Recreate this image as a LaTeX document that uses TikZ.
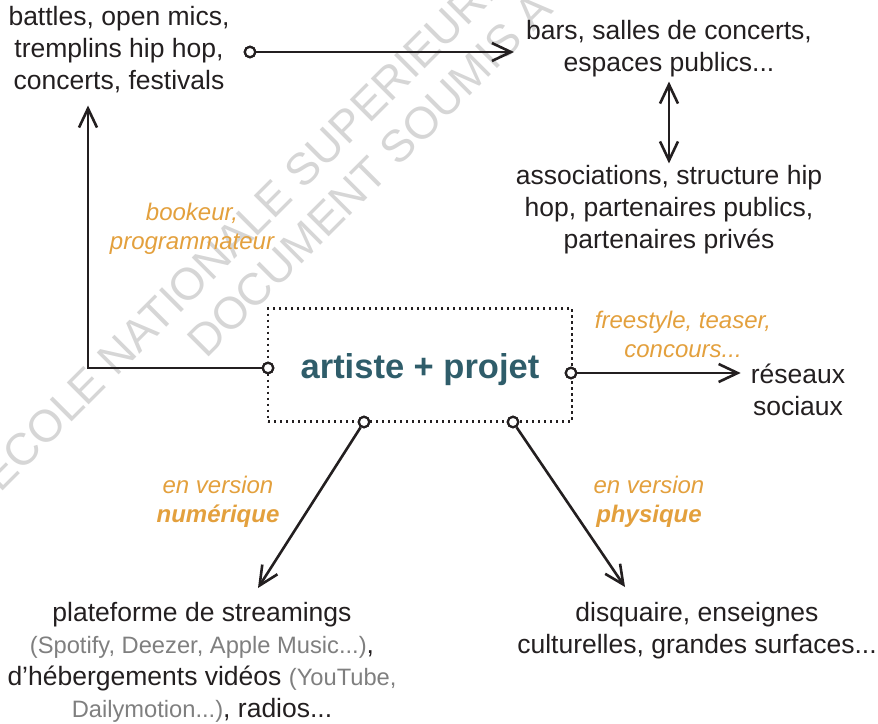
\documentclass[tikz,border=0pt]{standalone}
\usepackage{fontspec}
\setmainfont{Liberation Sans}
\usetikzlibrary{arrows.meta}
\definecolor{ink}{HTML}{231F20}
\definecolor{lab}{HTML}{E3A03D}
\definecolor{projc}{HTML}{2F5D6A}
\definecolor{wmc}{HTML}{D6D6D6}
\definecolor{grayt}{HTML}{7F7F7F}
\newcommand\grtxt[1]{{\color{grayt}\fontsize{23.7}{32}\selectfont #1}}
\tikzset{
  txt/.style={align=center, inner sep=0pt, font=\fontsize{26.5}{32}\selectfont, text=ink},
  lbl/.style={align=center, inner sep=0pt, font=\fontsize{24}{29}\selectfont\itshape, text=lab},
  wmk/.style={inner sep=0pt, font=\fontsize{45}{55}\selectfont, text=wmc, rotate=45, anchor=base west},
  dotc/.style={circle, draw=ink, fill=white, line width=2.2pt, inner sep=0pt, minimum size=10.5pt},
  conn/.style={draw=ink, line width=2.6pt},
  arr/.style={conn, -{Straight Barb[length=19pt,width=18pt,line width=2.6pt]}},
  arrb/.style={conn, {Straight Barb[length=19pt,width=18pt,line width=2.6pt]}-{Straight Barb[length=19pt,width=18pt,line width=2.6pt]}},
  dotbox/.style={draw=ink, line width=2.2pt, dash pattern=on 2.2pt off 3.8pt, inner sep=0pt}
}
\begin{document}
\begin{tikzpicture}[x=1pt,y=-1pt]
\useasboundingbox (0,0) rectangle (878,723);
% watermark
\begin{scope}
\clip (0,0) rectangle (878,723);
\node[wmk] (wm1) at (0,494) {ECOLE NATIONALE SUPERIEURE};
\node[wmk] (wm2) at (206,360) {DOCUMENT SOUMIS A};
\end{scope}
% text nodes
\node[txt] (battles) at (119,50) {battles, open mics,\\tremplins hip hop,\\concerts, festivals};
\node[txt] (bars) at (669,49) {bars, salles de concerts,\\espaces publics...};
\node[txt] (assoc) at (669,210) {associations, structure hip\\hop, partenaires publics,\\partenaires privés};
\node[txt] (res) at (798,390) {réseaux\\sociaux};
\node[txt] (plat) at (202,662) {plateforme de streamings\\\grtxt{(Spotify, Deezer, Apple Music...)},\\d’hébergements vidéos \grtxt{(YouTube,}\\\grtxt{Dailymotion...)}, radios...};
\node[txt] (disq) at (697,631) {disquaire, enseignes\\culturelles, grandes surfaces...};
% central box
\node[dotbox, minimum width=304pt, minimum height=113pt] (box) at (420,365) {};
\node[inner sep=0pt, font=\fontsize{34.5}{40}\selectfont\bfseries, text=projc] (proj) at (420,370) {artiste + projet};
% labels
\node[lbl] (lb1) at (192,229) {bookeur,\\programmateur};
\node[lbl] (lb2) at (683,334) {freestyle, teaser,\\concours...};
\node[lbl] (lb3) at (218,502) {en version\\\textbf{numérique}};
\node[lbl] (lb4) at (649,502) {en version\\\textbf{physique}};
% connector points
\coordinate (bend) at (88,368);
\coordinate (tipN) at (258,588);
\coordinate (tipP) at (625,587);
\node[dotc] (c1) at (250,52) {};
\node[dotc] (c2) at (268,368) {};
\node[dotc] (c3) at (571,373) {};
\node[dotc] (c4) at (364,422) {};
\node[dotc] (c5) at (513,422) {};
% connectors
\draw[arr, shorten >=12pt] (c1) -- (c1 -| bars.west);
\draw[arrb, shorten <=4pt, shorten >=2pt] (bars.south) -- (bars.south |- assoc.north);
\draw[arr, shorten >=12pt] (c2) -- (bend) -- (bend |- battles.south);
\draw[arr, shorten >=10pt] (c3) -- (c3 -| res.west);
\draw[arr] (c4) -- (tipN);
\draw[arr] (c5) -- (tipP);
% redraw circles on top
\node[dotc] at (c1) {};
\node[dotc] at (c2) {};
\node[dotc] at (c3) {};
\node[dotc] at (c4) {};
\node[dotc] at (c5) {};
\end{tikzpicture}
\end{document}
